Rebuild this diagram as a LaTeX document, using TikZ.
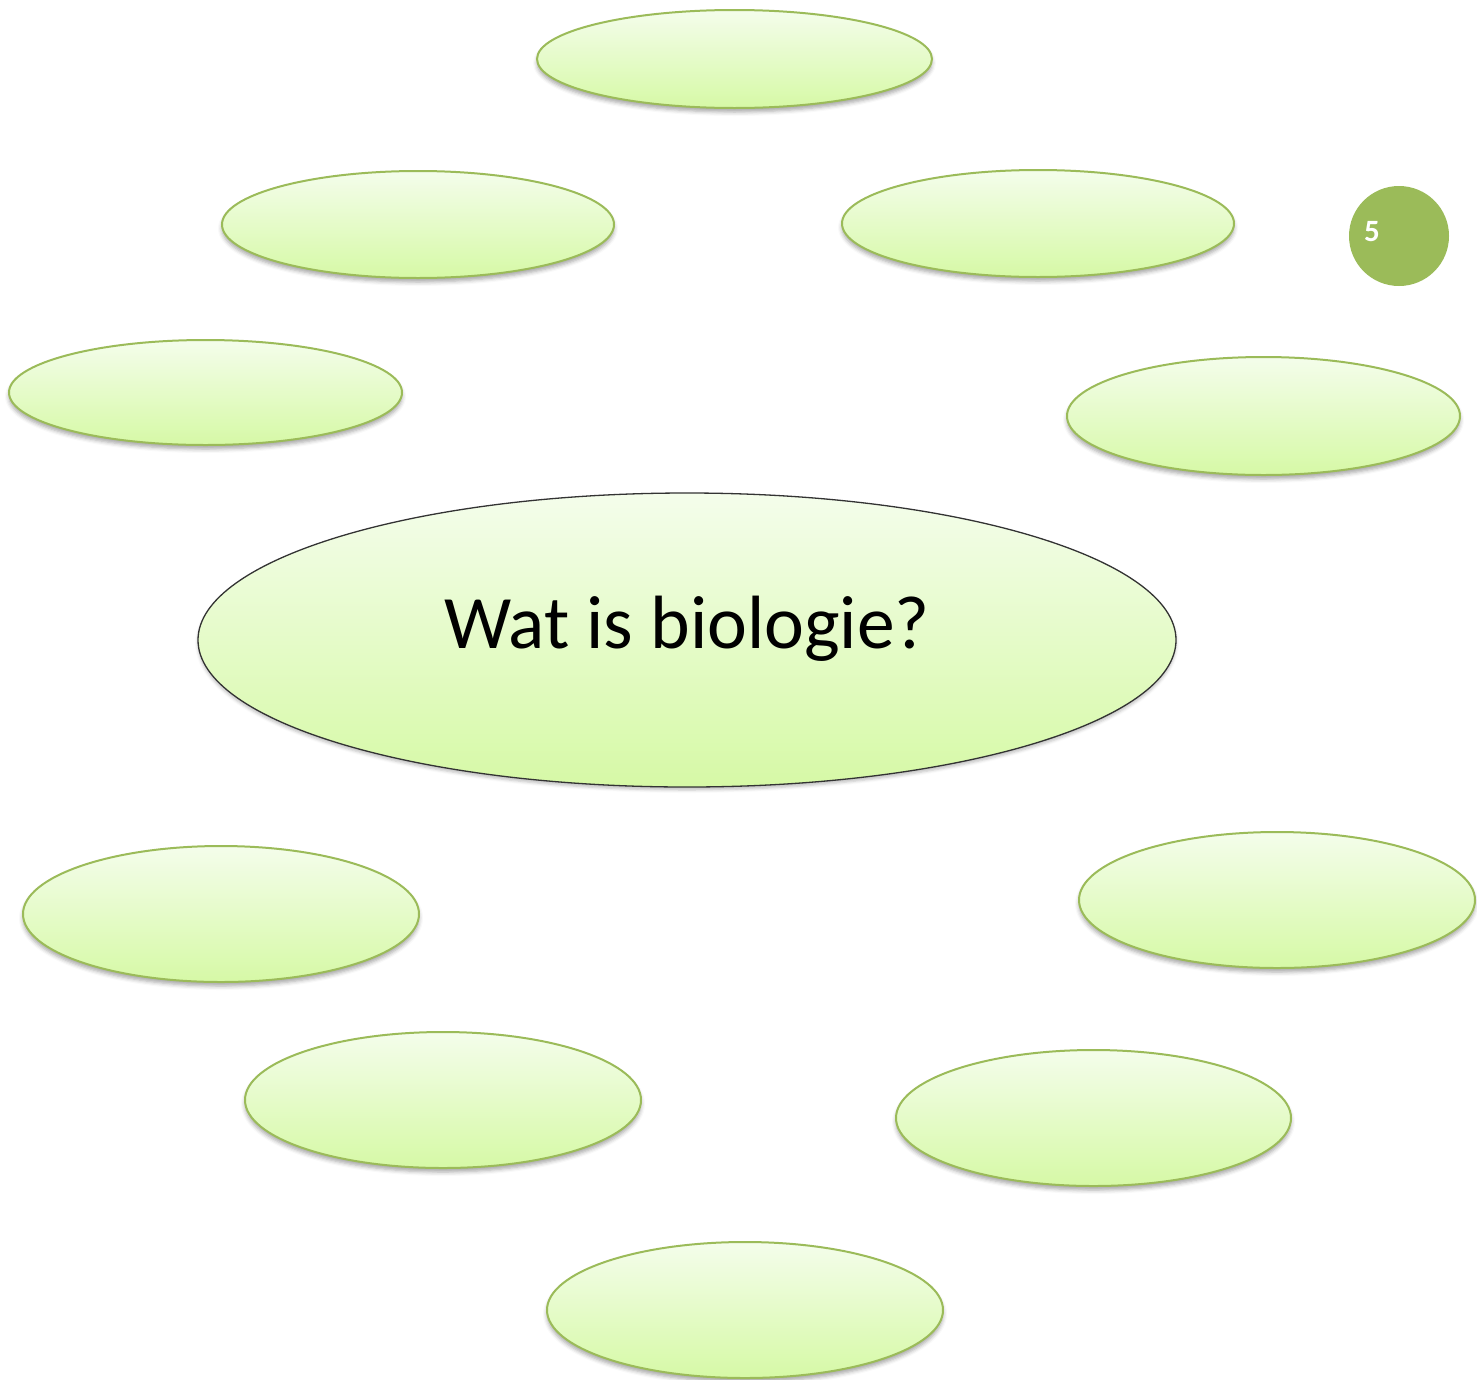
\documentclass[tikz,border=0pt]{standalone}
\usepackage{fontspec}
\setmainfont{Carlito}
\usetikzlibrary{shapes.geometric,shadows.blur}
\definecolor{rimgreen}{HTML}{9BBB59}
\definecolor{filltop}{HTML}{F4FDEB}
\definecolor{fillbot}{HTML}{D6F9A6}
\tikzset{
  bubble/.style={ellipse, inner sep=0pt, line width=2pt, draw=rimgreen,
    top color=filltop, bottom color=fillbot,
    blur shadow={shadow xshift=0pt, shadow yshift=-4pt, shadow blur radius=4pt, shadow opacity=35}},
  mainbubble/.style={ellipse, inner sep=0pt, line width=1.3pt, draw=black!80,
    top color=filltop, bottom color=fillbot,
    blur shadow={shadow xshift=0pt, shadow yshift=-3pt, shadow blur radius=3pt, shadow opacity=25}},
  badge/.style={circle, fill=rimgreen, inner sep=0pt, minimum size=100pt}
}
\begin{document}
\begin{tikzpicture}[x=1pt,y=-1pt]
\useasboundingbox (0,0) rectangle (1477,1379);
\node[bubble, minimum width=395pt, minimum height=98pt] (e1) at (734.5,59) {};
\node[bubble, minimum width=392pt, minimum height=107pt] (e2) at (418,224.5) {};
\node[bubble, minimum width=392pt, minimum height=107pt] (e3) at (1038,223.5) {};
\node[bubble, minimum width=393pt, minimum height=105pt] (e4) at (205.5,392.5) {};
\node[bubble, minimum width=393pt, minimum height=118pt] (e5) at (1263.5,416) {};
\node[mainbubble, minimum width=978pt, minimum height=294pt] (center) at (687,640) {};
\node[font=\fontsize{75.5}{80}\selectfont, anchor=base] (title) at (687,648) {Wat is biologie?};
\node[bubble, minimum width=396pt, minimum height=136pt] (e7) at (221,914) {};
\node[bubble, minimum width=396pt, minimum height=136pt] (e8) at (1277,900) {};
\node[bubble, minimum width=396pt, minimum height=136pt] (e9) at (443,1100) {};
\node[bubble, minimum width=395pt, minimum height=136pt] (e10) at (1093.5,1118) {};
\node[bubble, minimum width=396pt, minimum height=136pt] (e11) at (745,1310) {};
\node[badge] (num) at (1399,236) {};
\node[font=\fontsize{31}{33}\selectfont\bfseries, text=white, anchor=base] (numtext) at (1372,241) {5};
\end{tikzpicture}
\end{document}
